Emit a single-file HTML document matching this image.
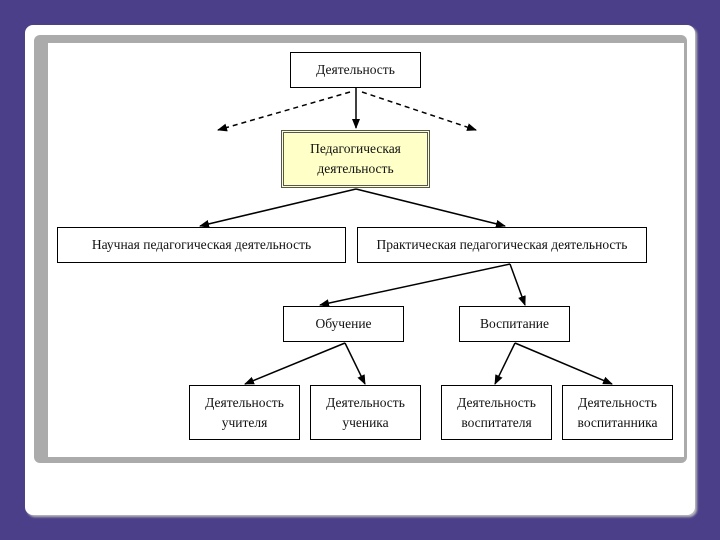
<!DOCTYPE html>
<html><head><meta charset="utf-8"><style>
body{margin:0;width:720px;height:540px;background:#4b3f89;position:relative;overflow:hidden;font-family:"Liberation Serif","DejaVu Serif",serif}
.card{position:absolute;left:25px;top:25px;width:670px;height:490px;background:#fff;border-radius:8px;box-shadow:2px 2px 2px #bbb}
.frame{position:absolute;left:34px;top:35px;width:653px;height:428px;background:#ababab;border-radius:6px}
.inner{position:absolute;left:48px;top:43px;width:636px;height:414px;background:#fff}
.b{position:absolute;border:1.5px solid #000;background:#fff;display:flex;align-items:center;justify-content:center;text-align:center;font-size:13.5px;line-height:20px;box-sizing:border-box;color:#111}
</style></head><body>
<div class="card"></div><div class="frame"></div><div class="inner"></div>
<svg width="720" height="540" style="position:absolute;left:0;top:0">
<defs><marker id="a" markerWidth="10" markerHeight="8" refX="9" refY="4" orient="auto" markerUnits="userSpaceOnUse"><path d="M0,0L10,4L0,8z" fill="#000"/></marker></defs>
<g stroke="#000" stroke-width="1.5" fill="none" marker-end="url(#a)">
<line x1="356" y1="88" x2="356" y2="128"/>
<line x1="350" y1="92" x2="218" y2="130" stroke-dasharray="5,4"/>
<line x1="362" y1="92" x2="476" y2="130" stroke-dasharray="5,4"/>
<line x1="356" y1="189" x2="200" y2="226"/>
<line x1="356" y1="189" x2="505" y2="226"/>
<line x1="510" y1="264" x2="320" y2="305"/>
<line x1="510" y1="264" x2="525" y2="305"/>
<line x1="345" y1="343" x2="245" y2="384"/>
<line x1="345" y1="343" x2="365" y2="384"/>
<line x1="515" y1="343" x2="495" y2="384"/>
<line x1="515" y1="343" x2="612" y2="384"/>
</g></svg>
<div class="b" style="left:290px;top:52px;width:131px;height:36px">Деятельность</div>
<div class="b" style="left:281px;top:130px;width:149px;height:58px;background:#ffffc8;border:3px double #555">Педагогическая<br>деятельность</div>
<div class="b" style="left:57px;top:227px;width:289px;height:36px">Научная педагогическая деятельность</div>
<div class="b" style="left:357px;top:227px;width:290px;height:36px">Практическая педагогическая деятельность</div>
<div class="b" style="left:283px;top:306px;width:121px;height:36px">Обучение</div>
<div class="b" style="left:459px;top:306px;width:111px;height:36px">Воспитание</div>
<div class="b" style="left:189px;top:385px;width:111px;height:55px">Деятельность<br>учителя</div>
<div class="b" style="left:310px;top:385px;width:111px;height:55px">Деятельность<br>ученика</div>
<div class="b" style="left:441px;top:385px;width:111px;height:55px">Деятельность<br>воспитателя</div>
<div class="b" style="left:562px;top:385px;width:111px;height:55px">Деятельность<br>воспитанника</div>
</body></html>
